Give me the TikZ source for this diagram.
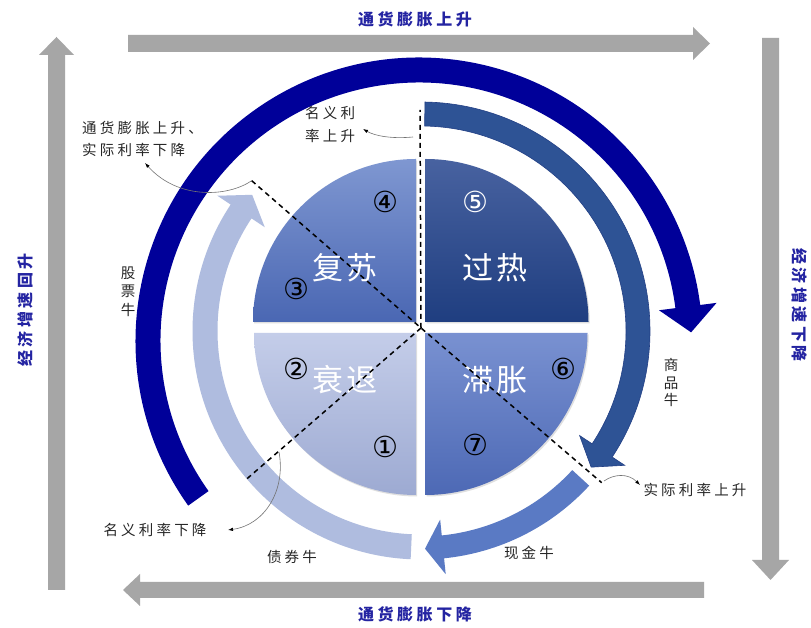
\documentclass[tikz,border=0pt]{standalone}
\usepackage{fontspec}
\usetikzlibrary{calc,arrows.meta,shadows}
\newfontfamily\cjk{Noto Sans CJK SC}
\newfontfamily\cjkls[LetterSpace=22]{Noto Sans CJK SC}
\newfontfamily\cjkti[LetterSpace=22]{Noto Sans CJK SC}
\newfontfamily\cjkq[LetterSpace=10]{Noto Sans CJK SC}
\newfontfamily\circfont{DejaVu Sans}
\definecolor{grayarrow}{HTML}{A6A6A6}
\definecolor{navy}{HTML}{000099}
\definecolor{midblue}{HTML}{2E5395}
\definecolor{midblueline}{HTML}{223F85}
\definecolor{cashblue}{HTML}{5A7AC4}
\definecolor{lightblue}{HTML}{AFBCDF}
\definecolor{titleblue}{HTML}{2424A2}
\definecolor{ulA}{HTML}{7F97D1}
\definecolor{ulB}{HTML}{4A67B3}
\definecolor{urA}{HTML}{4862A0}
\definecolor{urB}{HTML}{1F3E80}
\definecolor{llA}{HTML}{C4CDE9}
\definecolor{llB}{HTML}{9DAAD2}
\definecolor{lrA}{HTML}{7991D1}
\definecolor{lrB}{HTML}{4D69B5}
% #1 style, #2 center, #3 mid radius, #4 half width, #5 start angle, #6 end angle, #7 head half width, #8 head length
\newcommand\bandarrow[8]{%
\begin{scope}[shift={#2}]
\path[#1] (#5:{#3+#4}) arc[start angle=#5,end angle=#6,radius={(#3+#4)*1pt}]
  -- (#6:{#3+#7}) -- ($(#6:#3)+({#6-90}:#8)$) -- (#6:{#3-#7}) -- (#6:{#3-#4})
  arc[start angle=#6,end angle=#5,radius={(#3-#4)*1pt}] -- cycle;
\end{scope}}
\tikzset{
  grayarr/.style={fill=grayarrow},
  anno/.style={font=\cjkls\fontsize{14.5}{18}\selectfont, text=black!85, inner sep=0pt},
  titletext/.style={font=\cjkti\bfseries\fontsize{16}{18}\selectfont, text=titleblue, inner sep=0pt},
  quadtext/.style={font=\cjkq\fontsize{31}{33}\selectfont, text=white, inner sep=0pt},
  num/.style={font=\circfont\fontsize{29}{31}\selectfont, inner sep=0pt},
  divider/.style={line width=1.5pt, dash pattern=on 5pt off 4pt, black},
  pointer/.style={draw=black!55, line width=0.6pt, -{Latex[length=5pt,width=3.5pt,color=black]}},
  quadshadow/.style={drop shadow={opacity=0.25, shadow xshift=1.2pt, shadow yshift=-1.5pt}},
}
\begin{document}
\begin{tikzpicture}[x=1pt,y=1pt]
\useasboundingbox (0,0) rectangle (811,628);
\fill[white] (0,0) rectangle (811,628);
% gray frame arrows
\fill[grayarr] (128,576) -- (128,593) -- (693,593) -- (693,601) -- (710,584.5) -- (693,568) -- (693,576) -- cycle;
\fill[grayarr] (48,38) -- (48,573) -- (39,573) -- (56.5,591) -- (74,573) -- (65,573) -- (65,38) -- cycle;
\fill[grayarr] (762,590) -- (762,68) -- (752,68) -- (770.5,48) -- (789,68) -- (779,68) -- (779,590) -- cycle;
\fill[grayarr] (704,46) -- (140,46) -- (140,54) -- (123,38) -- (140,22) -- (140,30) -- (704,30) -- cycle;
% titles
\node[titletext] (ttop) at (415,609) {通货膨胀上升};
\node[titletext] (tbot) at (415,14) {通货膨胀下降};
\node[titletext, rotate=90] (tleft) at (25,318) {经济增速回升};
\node[titletext, rotate=-90] (tright) at (800,323) {经济增速下降};
% cycle arcs
\bandarrow{fill=navy}{(419,287)}{271}{12.5}{215.5}{7.3}{29}{26}
\bandarrow{fill=midblue, draw=midblueline, line width=0.6pt}{(421,297)}{217}{12}{89}{-33.4}{27}{20}
\bandarrow{fill=cashblue}{(421,297)}{217}{11.5}{-42.6}{-84.2}{27.5}{18}
\bandarrow{fill=lightblue}{(421,297)}{216}{12.5}{267.4}{146.4}{28.4}{20}
% quadrants
\path[quadshadow, top color=ulA, bottom color=ulB] (416,306) -- ++(180:163) arc[start angle=180,end angle=90,radius=163pt] -- cycle;
\path[quadshadow, top color=urA, bottom color=urB] (425.5,306) -- ++(90:163) arc[start angle=90,end angle=0,radius=163pt] -- cycle;
\path[quadshadow, top color=llA, bottom color=llB] (416,295) -- ++(180:162) arc[start angle=180,end angle=270,radius=162pt] -- cycle;
\path[quadshadow, top color=lrA, bottom color=lrB] (425.5,295) -- ++(0:162) arc[start angle=0,end angle=-90,radius=162pt] -- cycle;
\node[quadtext] (fusu) at (345,360) {复苏};
\node[quadtext] (guore) at (495,360) {过热};
\node[quadtext] (shuaitui) at (345,248) {衰退};
\node[quadtext] (zhizhang) at (495,248) {滞胀};
\node[num] (n1) at (385,181) {①};
\node[num] (n2) at (296,259) {②};
\node[num] (n3) at (296,339) {③};
\node[num] (n4) at (385,426) {④};
\node[num, text=white] (n5) at (475,426) {⑤};
\node[num] (n6) at (563,259) {⑥};
\node[num] (n7) at (475,183) {⑦};
% dividers
\coordinate (O) at (421,300);
\coordinate (vtop) at (420,518);
\coordinate (ulend) at (251.7,447.3);
\coordinate (lrend) at (601.7,145.3);
\coordinate (llend) at (246.7,149);
\draw[divider] (O) -- (vtop);
\draw[divider] (ulend) -- (O) -- (lrend);
\draw[divider] (O) -- (llend);
% labels
\node[anno, align=left, anchor=west, font=\cjkls\fontsize{14.5}{22}\selectfont] (lblA) at (82,489) {通货膨胀上升、\\实际利率下降};
\node[anno, align=left, anchor=west, font=\cjkls\fontsize{14.5}{23}\selectfont] (lblB) at (305,503.5) {名义利\\率上升};
\node[anno, align=center, font=\cjkls\fontsize{14.5}{18.5}\selectfont] (lblC) at (128,336.5) {股\\票\\牛};
\node[anno, align=center, font=\cjkls\fontsize{14.5}{17.5}\selectfont] (lblD) at (671,245.5) {商\\品\\牛};
\node[anno] (lblE) at (695,138) {实际利率上升};
\node[anno] (lblF) at (155,98) {名义利率下降};
\node[anno] (lblG) at (292,71) {债券牛};
\node[anno] (lblH) at (529,75) {现金牛};
% pointers
\coordinate (pAs) at (251.7,447.3);
\coordinate (pAe) at (145,465);
\coordinate (pBs) at (413,491);
\coordinate (pBe) at (363,499);
\coordinate (pEs) at (604,147);
\coordinate (pEe) at (640,143);
\coordinate (pFs) at (279,176);
\coordinate (pFe) at (228,98);
\draw[pointer] (pAs) .. controls (228,431) and (178,428) .. (pAe);
\draw[pointer] (pBs) .. controls (392,489) and (375,492) .. (pBe);
\draw[pointer] (pEs) .. controls (614,154) and (628,155) .. (pEe);
\draw[pointer] (pFs) .. controls (286,138) and (265,103) .. (pFe);
\end{tikzpicture}
\end{document}
